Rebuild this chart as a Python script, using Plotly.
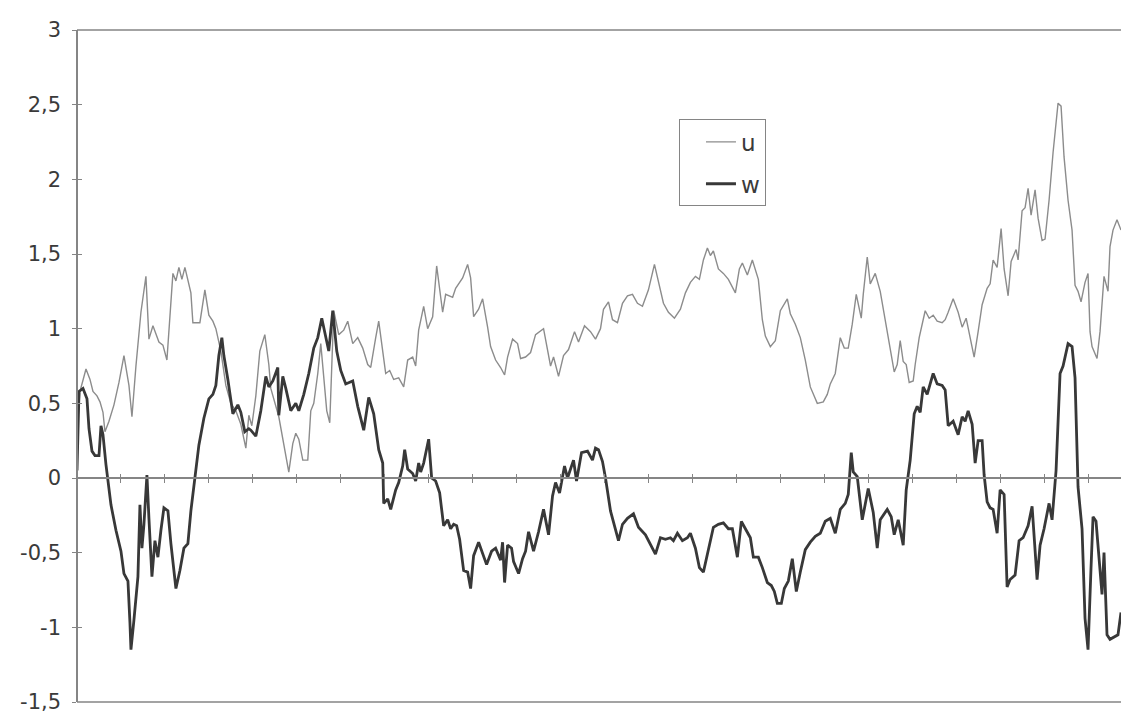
import plotly.graph_objects as go

# ---- data (sample index, value) ----
u_index = [0,3,9,13,16,20,23,26,28,32,37,42,47,51,52,55,59,64,69,72,76,82,86,90,96,99,102,105,108,114,116,123,128,132,136,139,144,149,154,159,164,169,172,175,179,183,188,192,194,202,207,212,216,219,222,226,231,234,237,241,244,247,250,253,255,257,262,267,271,276,281,286,291,294,299,302,306,309,313,317,322,327,331,336,339,342,347,351,356,360,366,369,376,379,386,391,394,397,402,406,411,414,419,424,428,431,436,441,444,449,454,459,467,471,474,477,482,487,492,498,502,508,514,519,524,527,532,536,541,546,551,556,561,566,572,578,582,587,592,598,604,609,614,619,623,627,631,634,637,642,647,652,659,663,666,671,676,682,686,689,694,699,704,711,714,719,724,729,734,741,747,751,754,759,764,768,772,776,780,785,787,791,794,799,804,809,814,818,821,824,827,830,833,837,839,843,849,853,857,861,866,869,872,877,882,886,890,893,898,902,906,911,914,917,921,925,928,932,935,940,942,946,949,952,955,959,962,966,969,973,977,982,985,988,992,996,999,1002,1005,1009,1012,1014,1016,1021,1024,1028,1032,1034,1037,1041,1045]
u_values = [0.30,0.58,0.73,0.66,0.58,0.55,0.51,0.44,0.31,0.38,0.49,0.64,0.82,0.64,0.62,0.41,0.75,1.11,1.35,0.93,1.02,0.91,0.89,0.79,1.37,1.32,1.41,1.33,1.41,1.24,1.04,1.04,1.26,1.09,1.05,1.00,0.85,0.62,0.50,0.45,0.36,0.20,0.42,0.35,0.55,0.85,0.96,0.76,0.60,0.41,0.21,0.04,0.23,0.30,0.26,0.12,0.12,0.45,0.50,0.70,0.90,0.70,0.45,0.37,0.83,1.12,0.96,0.99,1.05,0.90,0.94,0.87,0.76,0.74,0.94,1.05,0.85,0.70,0.72,0.66,0.67,0.61,0.79,0.81,0.75,0.99,1.15,1.00,1.08,1.42,1.11,1.23,1.21,1.27,1.34,1.43,1.34,1.08,1.13,1.20,1.01,0.88,0.79,0.74,0.69,0.81,0.93,0.90,0.80,0.81,0.84,0.96,1.00,0.86,0.75,0.81,0.68,0.82,0.86,0.98,0.91,1.02,0.98,0.93,1.00,1.13,1.18,1.06,1.04,1.17,1.22,1.23,1.17,1.15,1.26,1.43,1.31,1.17,1.11,1.07,1.13,1.24,1.31,1.35,1.33,1.46,1.54,1.49,1.52,1.40,1.37,1.33,1.24,1.40,1.44,1.36,1.46,1.33,1.06,0.95,0.88,0.92,1.12,1.20,1.10,1.03,0.94,0.79,0.61,0.50,0.51,0.56,0.63,0.70,0.94,0.87,0.87,1.03,1.23,1.07,1.23,1.48,1.30,1.37,1.25,1.05,0.85,0.71,0.76,0.92,0.78,0.76,0.64,0.65,0.76,0.94,1.12,1.07,1.09,1.05,1.04,1.06,1.11,1.20,1.11,1.01,1.07,0.98,0.81,0.98,1.16,1.27,1.30,1.46,1.41,1.67,1.40,1.22,1.45,1.53,1.46,1.79,1.81,1.94,1.76,1.93,1.74,1.59,1.60,1.86,2.18,2.51,2.49,2.15,1.86,1.66,1.29,1.25,1.18,1.31,1.37,0.98,0.88,0.80,0.98,1.35,1.25,1.55,1.66,1.73,1.66]

w_index = [0,2,6,10,12,15,18,22,24,26,29,31,34,39,44,47,51,53,54,57,61,63,65,67,70,72,75,78,81,84,87,91,94,99,103,107,111,114,118,122,127,132,136,139,142,145,147,151,156,161,164,168,172,174,179,184,189,192,196,201,202,206,209,214,219,222,227,232,237,241,245,249,252,256,260,264,269,276,281,287,292,297,302,306,307,311,314,319,322,326,328,331,336,339,342,344,347,352,355,359,363,367,371,374,377,380,383,387,391,394,397,402,406,410,415,419,424,426,428,431,435,437,442,446,449,452,457,462,467,472,476,479,483,488,491,497,500,505,511,516,519,522,526,529,534,537,542,546,551,557,562,569,574,579,584,589,594,597,601,606,611,614,619,623,627,632,637,642,647,652,656,661,665,669,674,677,682,686,691,695,698,701,705,708,712,716,720,724,729,734,739,744,749,754,759,764,769,772,775,777,781,786,792,797,801,804,811,815,818,822,827,830,834,838,841,844,847,851,857,861,866,869,872,877,882,886,889,892,896,899,902,906,908,911,914,917,921,924,928,931,934,939,943,947,952,956,961,964,968,973,976,980,984,987,992,996,999,1002,1006,1009,1012,1015,1017,1020,1023,1026,1028,1031,1034,1039,1042,1045]
w_values = [0.05,0.58,0.60,0.53,0.33,0.18,0.15,0.15,0.35,0.29,0.09,-0.02,-0.18,-0.35,-0.49,-0.64,-0.69,-0.97,-1.15,-0.95,-0.66,-0.18,-0.47,-0.31,0.02,-0.27,-0.66,-0.42,-0.53,-0.35,-0.20,-0.22,-0.44,-0.74,-0.62,-0.47,-0.44,-0.22,0.00,0.22,0.40,0.53,0.56,0.62,0.82,0.94,0.82,0.66,0.43,0.49,0.44,0.31,0.33,0.32,0.28,0.45,0.68,0.61,0.65,0.74,0.42,0.68,0.60,0.45,0.50,0.45,0.56,0.70,0.87,0.94,1.07,0.94,0.85,1.12,0.85,0.72,0.63,0.65,0.48,0.32,0.54,0.43,0.19,0.10,-0.17,-0.14,-0.21,-0.08,-0.03,0.08,0.19,0.06,0.03,-0.02,0.10,0.04,0.10,0.26,0.00,-0.02,-0.10,-0.32,-0.28,-0.34,-0.31,-0.32,-0.41,-0.62,-0.63,-0.74,-0.52,-0.43,-0.51,-0.58,-0.49,-0.47,-0.55,-0.43,-0.70,-0.45,-0.47,-0.56,-0.64,-0.54,-0.49,-0.36,-0.49,-0.36,-0.21,-0.38,-0.12,-0.03,-0.10,0.08,0.00,0.12,-0.02,0.17,0.18,0.12,0.20,0.19,0.11,0.00,-0.22,-0.29,-0.42,-0.31,-0.27,-0.24,-0.33,-0.38,-0.44,-0.51,-0.40,-0.41,-0.40,-0.42,-0.37,-0.42,-0.40,-0.37,-0.47,-0.60,-0.63,-0.49,-0.33,-0.31,-0.30,-0.34,-0.34,-0.53,-0.29,-0.34,-0.40,-0.53,-0.53,-0.60,-0.70,-0.72,-0.76,-0.84,-0.84,-0.74,-0.69,-0.54,-0.76,-0.63,-0.48,-0.43,-0.39,-0.37,-0.29,-0.27,-0.37,-0.21,-0.17,-0.11,0.17,0.04,0.01,-0.28,-0.07,-0.23,-0.47,-0.28,-0.21,-0.26,-0.38,-0.28,-0.45,-0.08,0.12,0.43,0.48,0.44,0.61,0.56,0.70,0.63,0.62,0.59,0.35,0.38,0.29,0.41,0.38,0.45,0.36,0.10,0.25,0.25,0.02,-0.16,-0.20,-0.21,-0.37,-0.08,-0.11,-0.73,-0.68,-0.65,-0.42,-0.40,-0.32,-0.19,-0.68,-0.45,-0.34,-0.17,-0.28,0.05,0.70,0.75,0.90,0.88,0.67,-0.06,-0.34,-0.94,-1.15,-0.60,-0.26,-0.29,-0.52,-0.78,-0.50,-1.05,-1.08,-1.06,-1.05,-0.90]

y_tick_values = [-1.5, -1, -0.5, 0, 0.5, 1, 1.5, 2, 2.5, 3]
y_tick_labels = ["-1,5", "-1", "-0,5", "0", "0,5", "1", "1,5", "2", "2,5", "3"]
series_names = ["u", "w"]

AXIS = "#858585"
TEXT = "#3a3a3a"
FONT = "DejaVu Sans"

fig = go.Figure()
fig.add_trace(go.Scatter(x=u_index, y=u_values, mode="lines", name=series_names[0],
                         legendgroup="a", line=dict(color="#8c8c8c", width=1.4)))
fig.add_trace(go.Scatter(x=w_index, y=w_values, mode="lines", name=series_names[1],
                         legendgroup="b", line=dict(color="#383838", width=2.8)))
# helper trace so the crossing tick overlays are drawn
fig.add_trace(go.Scatter(x=[None], y=[None], xaxis="x2", yaxis="y2", showlegend=False,
                         hoverinfo="skip"))

xr = [0, 1045]
yr = [-1.5, 3]
zero_pos = (0 - yr[0]) / (yr[1] - yr[0])

fig.update_layout(
    width=1121, height=714,
    margin=dict(l=77, r=0, t=30, b=7),
    paper_bgcolor="white", plot_bgcolor="white",
    font=dict(family=FONT, size=21, color=TEXT),
    showlegend=True,
    legend=dict(x=0.5766, y=0.867, xanchor="left", yanchor="top",
                bordercolor=AXIS, borderwidth=1, bgcolor="white",
                font=dict(family=FONT, size=23, color=TEXT),
                tracegroupgap=9, itemwidth=30, indentation=21,
                entrywidth=38, entrywidthmode="pixels"),
    xaxis=dict(range=xr, anchor="free", position=zero_pos, showline=True,
               linecolor=AXIS, linewidth=1.5, ticks="outside", ticklen=4,
               tickcolor=AXIS, tickwidth=1, tick0=0, dtick=44,
               showticklabels=False, showgrid=False, zeroline=False),
    xaxis2=dict(range=xr, overlaying="x", anchor="free", position=zero_pos,
                showline=False, ticks="inside", ticklen=4, tickcolor=AXIS,
                tickwidth=1, tick0=0, dtick=44, showticklabels=False,
                showgrid=False, zeroline=False),
    yaxis=dict(range=yr, anchor="free", position=0, showline=True,
               linecolor=AXIS, linewidth=1.5, ticks="outside", ticklen=4,
               tickcolor=AXIS, tickvals=y_tick_values, ticktext=y_tick_labels,
               ticklabelstandoff=7, ticklabeloverflow="allow",
               showgrid=False, zeroline=False,
               tickfont=dict(family=FONT, size=21, color=TEXT)),
    yaxis2=dict(range=yr, overlaying="y", anchor="free", position=0, side="left",
                showline=False, ticks="inside", ticklen=4, tickcolor=AXIS,
                tickvals=y_tick_values, showticklabels=False, showgrid=False,
                zeroline=False),
    shapes=[
        dict(type="line", xref="paper", yref="paper", x0=0, x1=1, y0=1, y1=1,
             line=dict(color=AXIS, width=1.5)),
        dict(type="line", xref="paper", yref="paper", x0=0, x1=1, y0=0, y1=0,
             line=dict(color=AXIS, width=1.5)),
    ],
)

fig.write_html("out.html")
